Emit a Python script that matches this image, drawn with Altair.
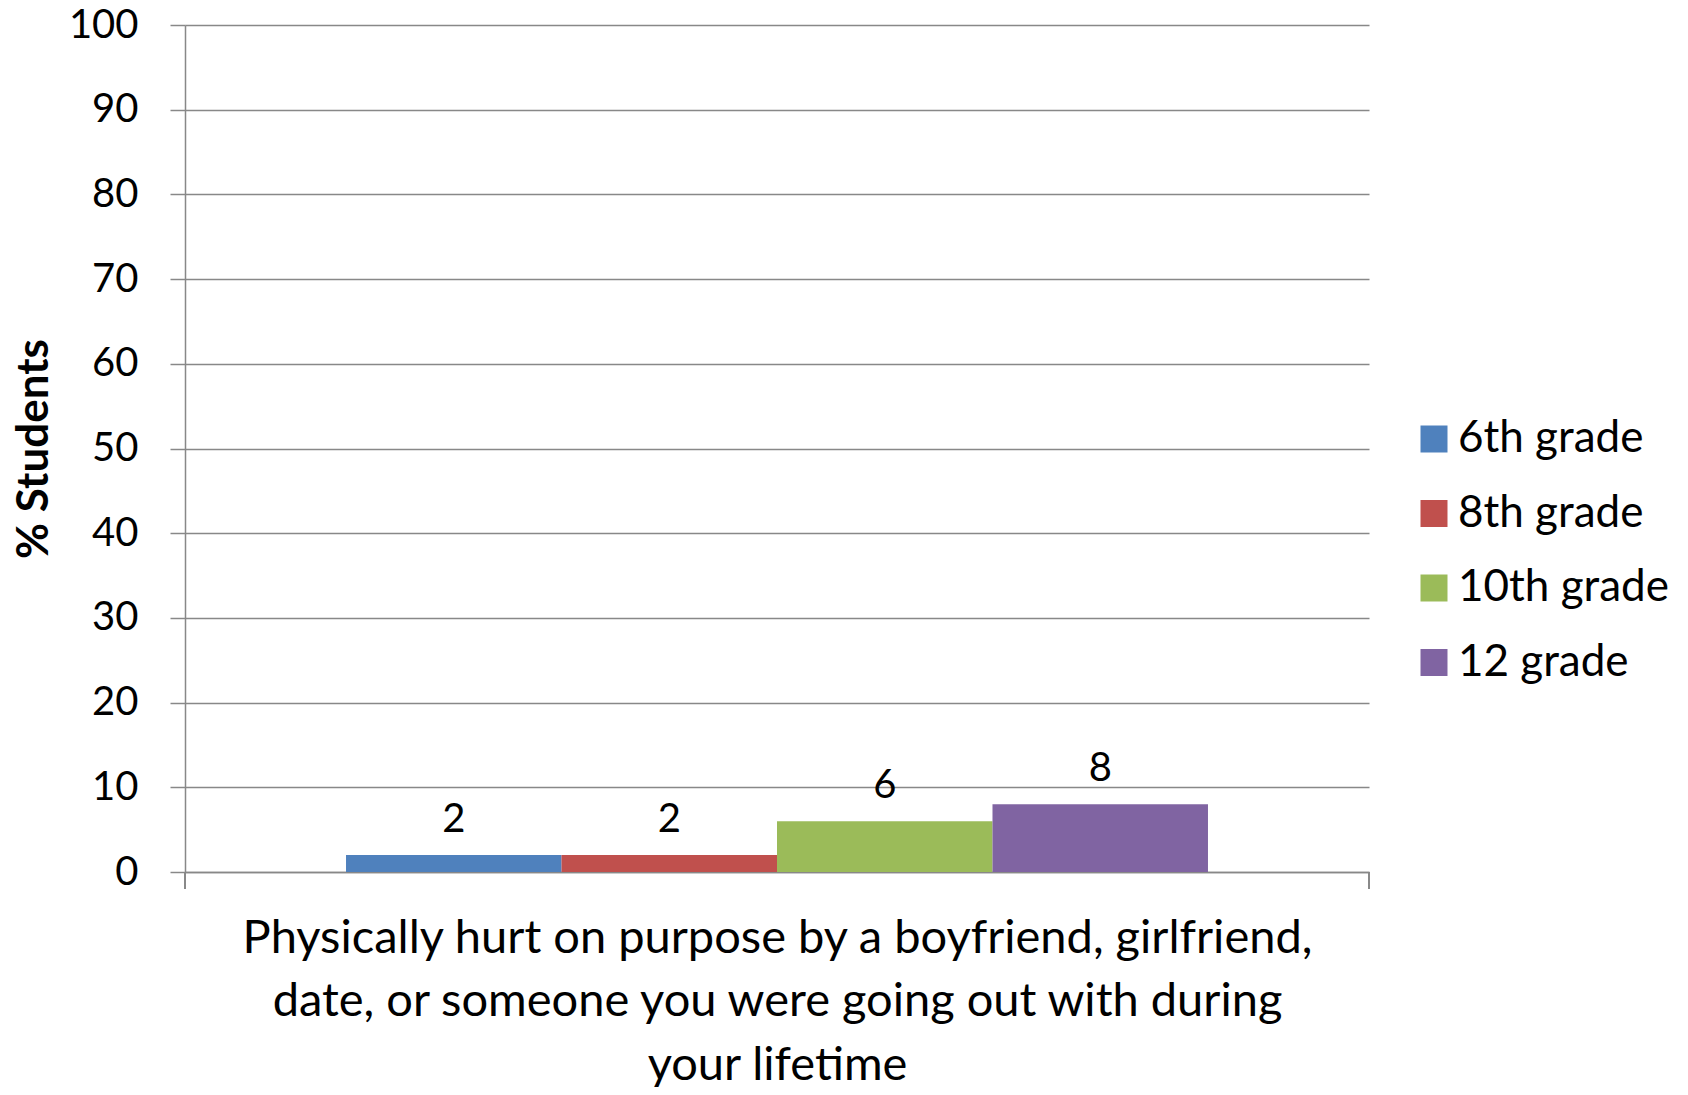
import altair as alt
import pandas as pd

category = "Physically hurt on purpose by a boyfriend, girlfriend, date, or someone you were going out with during your lifetime"
category_lines = [
    "Physically hurt on purpose by a boyfriend, girlfriend,",
    "date, or someone you were going out with during",
    "your lifetime",
]
grades = ["6th grade", "8th grade", "10th grade", "12 grade"]
values = [2, 2, 6, 8]
colors = ["#4F81BD", "#C0504D", "#9BBB59", "#8064A2"]
y_ticks = [0, 10, 20, 30, 40, 50, 60, 70, 80, 90, 100]

df = pd.DataFrame({"category": [category] * len(grades), "grade": grades, "value": values})

FONT = "Lato"
GRID = "#888888"
W, H = 1184, 847

x_enc = alt.X(
    "category:N",
    scale=alt.Scale(paddingInner=0, paddingOuter=0.1868),
    axis=alt.Axis(
        labels=False, ticks=False, domain=True, domainColor=GRID, domainWidth=1.5,
        title=category_lines, titleFont=FONT, titleFontSize=47, titleFontWeight="normal",
        titleColor="black", titleLineHeight=63.5, titleX=W / 2, titleY=80,
        titleBaseline="alphabetic", titleAlign="center", titleLimit=2000,
    ),
)
xoff = alt.XOffset("grade:N", sort=grades, scale=alt.Scale(paddingInner=0, paddingOuter=0))
y_enc = alt.Y(
    "value:Q",
    scale=alt.Scale(domain=[0, 100]),
    axis=alt.Axis(
        values=y_ticks, tickSize=15, tickColor=GRID, tickWidth=1.5,
        grid=True, gridColor=GRID, gridWidth=1.5, domainColor=GRID, domainWidth=1.5,
        labelFont=FONT, labelFontSize=40, labelColor="black", labelPadding=32,
        title="% Students", titleFont=FONT, titleFontSize=44, titleFontWeight="bold",
        titleColor="black", titleX=-151, titleY=H / 2, titleAngle=270,
        titleBaseline="middle", titleAlign="center",
    ),
)

base = alt.Chart(df)

bars = base.mark_bar().encode(
    x=x_enc,
    xOffset=xoff,
    y=y_enc,
    color=alt.Color(
        "grade:N", sort=grades,
        scale=alt.Scale(domain=grades, range=colors),
        legend=alt.Legend(
            orient="none", legendX=1227, legendY=392, title=None,
            symbolType="square", symbolSize=729, symbolStrokeWidth=0, symbolOpacity=1,
            labelFont=FONT, labelFontSize=44, labelColor="black", labelOffset=2,
            labelLimit=500, rowPadding=30.5, padding=0,
        ),
    ),
)

labels = base.mark_text(dy=-23, baseline="alphabetic", font=FONT, fontSize=40, color="black").encode(
    x=alt.X("category:N"),
    xOffset=alt.XOffset("grade:N", sort=grades),
    y=alt.Y("value:Q"),
    text=alt.Text("value:Q"),
)

tick_l = base.mark_rule(color=GRID, strokeWidth=1.5).encode(
    x=alt.value(0), y=alt.value(H), y2=alt.value(H + 17)
)
tick_r = base.mark_rule(color=GRID, strokeWidth=1.5).encode(
    x=alt.value(W), y=alt.value(H), y2=alt.value(H + 17)
)

chart = (
    alt.layer(bars, labels, tick_l, tick_r)
    .properties(
        width=W, height=H,
        autosize=alt.AutoSizeParams(type="none"),
        padding={"left": 177, "top": 17, "right": 311, "bottom": 215},
    )
    .configure_view(stroke=None)
)

chart.save("out.html", embed_options={"renderer": "svg", "actions": False})
